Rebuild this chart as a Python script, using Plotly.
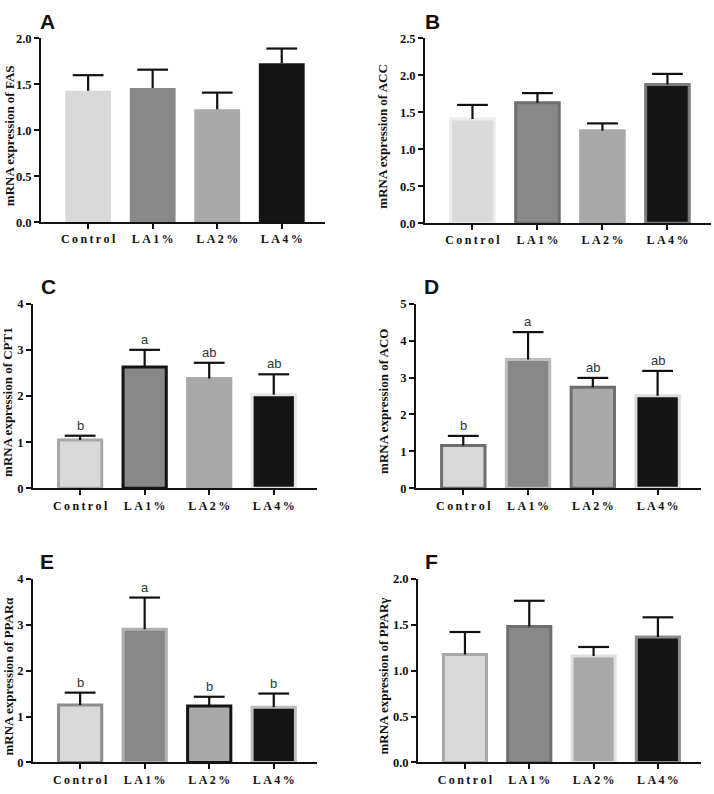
import plotly.graph_objects as go

categories = ["Control", "LA1%", "LA2%", "LA4%"]
tick_labels = ["C\u2009o\u2009n\u2009t\u2009r\u2009o\u2009l", "L\u2009A\u20091\u2009%", "L\u2009A\u20092\u2009%", "L\u2009A\u20094\u2009%"]

fas_mean = [1.43, 1.46, 1.23, 1.73]
fas_upper = [1.60, 1.66, 1.41, 1.89]
acc_mean = [1.41, 1.63, 1.25, 1.875]
acc_upper = [1.60, 1.76, 1.35, 2.02]
cpt1_mean = [1.05, 2.63, 2.38, 2.03]
cpt1_upper = [1.14, 3.00, 2.72, 2.47]
cpt1_letters = ["b", "a", "ab", "ab"]
aco_mean = [1.16, 3.49, 2.74, 2.51]
aco_upper = [1.42, 4.23, 2.99, 3.18]
aco_letters = ["b", "a", "ab", "ab"]
ppara_mean = [1.25, 2.90, 1.23, 1.20]
ppara_upper = [1.52, 3.59, 1.43, 1.50]
ppara_letters = ["b", "a", "b", "b"]
pparg_mean = [1.175, 1.48, 1.16, 1.365]
pparg_upper = [1.42, 1.76, 1.257, 1.58]

panel_letters = ["A", "B", "C", "D", "E", "F"]
y_titles = ["mRNA expression of FAS", "mRNA expression of ACC", "mRNA expression of CPT1",
            "mRNA expression of ACO", "mRNA expression of PPARα", "mRNA expression of PPARγ"]
y_max = [2.0, 2.5, 4, 5, 4, 2.0]
y_step = [0.5, 0.5, 1, 1, 1, 0.5]
y_fmt = [".1f", ".1f", "d", "d", "d", ".1f"]

means = [fas_mean, acc_mean, cpt1_mean, aco_mean, ppara_mean, pparg_mean]
uppers = [fas_upper, acc_upper, cpt1_upper, aco_upper, ppara_upper, pparg_upper]
letters = [None, None, cpt1_letters, aco_letters, ppara_letters, None]

fills = ["#d9d9d9", "#888888", "#a9a9a9", "#141414"]
outlines = [
    None,
    ["#ebebeb", "#6e6e6e", "#a9a9a9", "#7a7a7a"],
    ["#a8a8a8", "#141414", "#a9a9a9", "#e6e6e6"],
    ["#6e6e6e", "#bdbdbd", "#6e6e6e", "#dcdcdc"],
    ["#8c8c8c", "#b0b0b0", "#141414", "#bdbdbd"],
    ["#a8a8a8", "#6e6e6e", "#e0e0e0", "#8c8c8c"],
]

W, H = 714, 794
# pixel boxes: (x0, x1, ytop, ybottom)
boxes = [(41, 325, 32, 219), (425, 711, 32, 220), (33, 317, 302, 490),
         (416, 701, 302, 490), (33, 317, 582, 769), (418, 701, 582, 769)]
ytitle_x = [9, 383, 8, 384, 8, 383]
label_pos = [(38, 1), (423, 1), (39, 271), (422, 271), (38, 551), (423, 551)]

fig = go.Figure()
annotations = []
serif = "Liberation Serif"
sans = "Liberation Sans"

for i in range(6):
    xa = "x" if i == 0 else f"x{i+1}"
    ya = "y" if i == 0 else f"y{i+1}"
    m = means[i]
    up = uppers[i]
    err = [u - v for u, v in zip(up, m)]
    if outlines[i] is None:
        line = dict(width=0)
        bw = 0.71
    else:
        line = dict(color=outlines[i], width=3)
        bw = 0.67
    fig.add_trace(go.Bar(
        x=categories, y=m, xaxis=xa, yaxis=ya, width=bw,
        marker=dict(color=fills, line=line),
        error_y=dict(type="data", array=err, arrayminus=[0] * 4, symmetric=False,
                     color="#111111", thickness=2.2, width=0),
        showlegend=False, hoverinfo="skip",
    ))
    # error-bar caps at the upper value
    fig.add_trace(go.Scatter(
        x=categories, y=up, xaxis=xa, yaxis=ya, mode="markers",
        marker=dict(symbol="line-ew", size=22, line=dict(color="#111111", width=2.2)),
        showlegend=False, hoverinfo="skip", cliponaxis=False,
    ))
    x0, x1, yt, yb = boxes[i]
    dom_x = [x0 / W, x1 / W]
    dom_y = [1 - yb / H, 1 - yt / H]
    ax_suffix = "" if i == 0 else str(i + 1)
    fig.layout["xaxis" + ax_suffix] = dict(
        domain=dom_x, anchor=ya, type="category", range=[-0.73, 3.67],
        showline=True, linecolor="#111111", linewidth=1.8,
        ticks="outside", ticklen=5, tickwidth=1.8, tickcolor="#111111",
        tickvals=categories, ticktext=tick_labels,
        tickfont=dict(family=serif, size=12, color="#111111", weight="bold"),
        showgrid=False, zeroline=False, fixedrange=True,
    )
    nt = int(round(y_max[i] / y_step[i]))
    tv = [k * y_step[i] for k in range(nt + 1)]
    fig.layout["yaxis" + ax_suffix] = dict(
        domain=dom_y, anchor=xa, range=[0, y_max[i]],
        showline=True, linecolor="#111111", linewidth=1.8,
        ticks="outside", ticklen=5, tickwidth=1.8, tickcolor="#111111",
        tickvals=tv, tickformat=y_fmt[i],
        tickfont=dict(family=serif, size=12.5, color="#111111", weight="bold"),
        showgrid=False, zeroline=False, fixedrange=True,
    )
    annotations.append(dict(
        text=y_titles[i], textangle=-90, xref="paper", yref="paper",
        x=ytitle_x[i] / W, y=1 - ((yt + yb) / 2 + 6) / H, xanchor="center", yanchor="middle",
        showarrow=False, font=dict(family=serif, size=13, color="#111111", weight="bold"),
    ))
    lx, ly = label_pos[i]
    annotations.append(dict(
        text=panel_letters[i], xref="paper", yref="paper", x=lx / W, y=1 - ly / H,
        xanchor="left", yanchor="top", showarrow=False,
        font=dict(family=sans, size=21, color="#111111", weight="bold"),
    ))
    if letters[i] is not None:
        for c, u, t in zip(categories, up, letters[i]):
            annotations.append(dict(
                text=t, xref=xa, yref=ya, x=c, y=u, xanchor="center", yanchor="bottom",
                yshift=1, showarrow=False,
                font=dict(family=sans, size=13, color="#333333"),
            ))

fig.update_layout(
    width=W, height=H, autosize=False,
    margin=dict(l=0, r=0, t=0, b=0),
    paper_bgcolor="white", plot_bgcolor="white",
    annotations=annotations, bargap=0.3,
)

fig.write_html("out.html", config={"displayModeBar": False},
               post_script="document.body.style.margin='0';")
